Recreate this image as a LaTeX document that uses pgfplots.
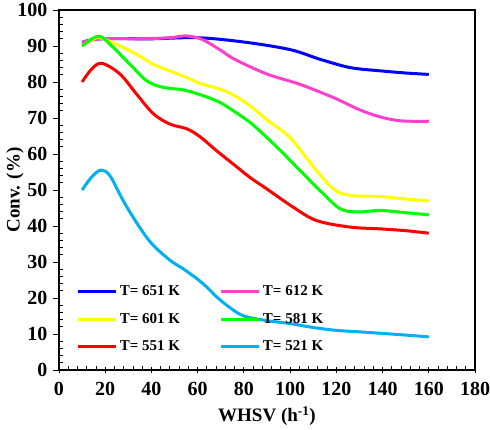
\documentclass[border=0pt]{standalone}
\usepackage{pgfplots}
\pgfplotsset{compat=1.18}
\usepackage{fontspec}
\setmainfont{Liberation Serif}
\definecolor{cBlue}{RGB}{0,0,255}
\definecolor{cMag}{RGB}{255,64,204}
\definecolor{cYel}{RGB}{255,255,0}
\definecolor{cGrn}{RGB}{0,255,0}
\definecolor{cRed}{RGB}{255,0,0}
\definecolor{cCyan}{RGB}{0,176,240}
\begin{document}
\begin{tikzpicture}
\begin{axis}[
  name=ax,
  scale only axis,
  width=416pt, height=360pt,
  xmin=0, xmax=180, ymin=0, ymax=100,
  xtick={0,20,...,180}, ytick={0,10,...,100},
  minor x tick num=4, minor y tick num=4,
  xtick pos=bottom, ytick pos=left,
  tick align=inside,
  major tick length=6pt, minor tick length=4pt,
  major x tick style={yshift=-3pt},
  major y tick style={xshift=-6pt},
  tick style={black, line width=0.9pt},
  axis line style={line width=1.3pt},
  /pgf/number format/assume math mode=true,
  ticklabel style={font=\fontsize{20}{23}\selectfont\bfseries},
  xticklabel style={yshift=-9pt},
  yticklabel style={xshift=-8pt},
  xlabel={WHSV (h\textsuperscript{-1})},
  ylabel={Conv. (\%)},
  label style={font=\fontsize{19}{22}\selectfont\bfseries},
  xlabel style={yshift=-4pt},
  ylabel style={at={(axis description cs:-0.135,0.5)}, anchor=north, rotate=0},
  legend columns=2,
  legend style={at={(0.035,0.245)}, anchor=north west, draw=none, fill=none,
    font=\fontsize{15}{18}\selectfont\bfseries,
    /tikz/every even column/.append style={column sep=38pt},
    row sep=12pt},
  legend image code/.code={\draw[#1, line width=3pt] (0pt,0pt) -- (38pt,0pt);},
  every axis plot/.append style={line width=3pt, smooth, tension=0.55, no marks},
]
\addplot[cBlue] coordinates {(10,91) (18,92) (40,92) (60,92.3) (80,91.1) (100,89) (113,86.3) (126,84) (139,83.1) (150,82.5) (160,82.1)};
\addlegendentry{T= 651 K}
\addplot[cMag] coordinates {(10,91) (18,92) (35,92) (48,92.3) (55,92.8) (62,91.8) (70,88.8) (76,86.3) (90,82.2) (104,79.4) (119,75.6) (130,72.3) (139,70.3) (148,69.2) (160,69.1)};
\addlegendentry{T= 612 K}
\addplot[cYel] coordinates {(10,90) (14,91.6) (17.7,92.3) (26.4,90) (33.6,87.7) (40.8,84.9) (48,83.1) (55.3,81.2) (61,79.6) (69.7,78) (76,76.2) (83,73.2) (90,69.5) (100,64.5) (110,56.5) (118.7,50.3) (125.9,48.5) (139,48.2) (150,47.5) (160,47)};
\addlegendentry{T= 601 K}
\addplot[cGrn] coordinates {(10,90) (14,91.9) (18,92.6) (23.5,89.6) (30.7,84.9) (38,80.3) (45.1,78.5) (53.8,77.8) (62.4,76.2) (69.7,74.3) (75.4,72) (82.6,68.8) (89.9,64.6) (97,60.2) (104.3,55.4) (114.4,48.9) (121.6,44.8) (128.8,43.9) (139,44.3) (150,43.7) (160,43.1)};
\addlegendentry{T= 581 K}
\addplot[cRed] coordinates {(10,80) (14,83.5) (18.5,85.2) (26.4,82.2) (33.6,76.6) (40.8,71.2) (48,68.3) (55.3,67) (61,64.8) (68.2,60.9) (75.4,57.2) (82.6,53.5) (89.9,50.3) (101.4,45.2) (111.5,41.5) (125.9,39.7) (139,39.2) (150,38.7) (160,38)};
\addlegendentry{T= 551 K}
\addplot[cCyan] coordinates {(10,50) (14,53.5) (18,55.5) (22,54) (27.8,47) (34,40.5) (40.1,35.1) (48,30.5) (54,28) (59.6,25.4) (64,23) (68.2,20.3) (74,17.3) (80,15) (90,13.7) (100,12.9) (110,11.8) (120.2,11) (130,10.6) (139,10.2) (150,9.7) (160,9.2)};
\addlegendentry{T= 521 K}
\end{axis}
\pgfresetboundingbox
\path ([xshift=-59pt,yshift=-60pt]ax.south west) rectangle ([xshift=15pt,yshift=10pt]ax.north east);
\end{tikzpicture}
\end{document}
